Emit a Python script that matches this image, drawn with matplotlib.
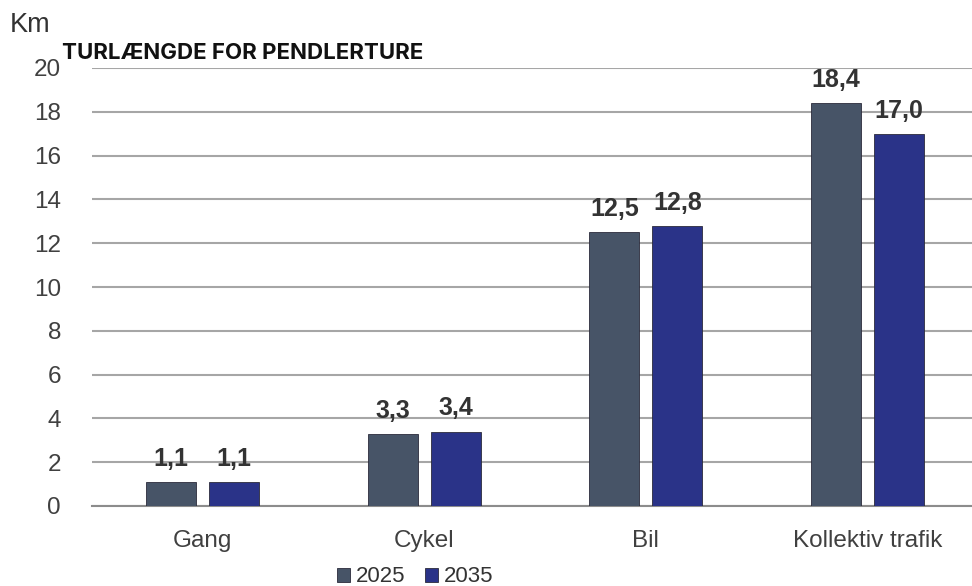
import matplotlib
matplotlib.use("Agg")
import matplotlib.pyplot as plt
import numpy as np

categories = ["Gang", "Cykel", "Bil", "Kollektiv trafik"]
series_names = ["2025", "2035"]
values_2025 = [1.1, 3.3, 12.5, 18.4]
values_2035 = [1.1, 3.4, 12.8, 17.0]
yticks = [0, 2, 4, 6, 8, 10, 12, 14, 16, 18, 20]

colors = ["#475467", "#2a3388"]

plt.rcParams['font.family'] = ['Liberation Sans', 'DejaVu Sans']

fig = plt.figure(figsize=(9.72, 5.86), dpi=100)
ax = fig.add_axes([91.5/972, 80/586, 887/972, 438/586])

x = np.arange(len(categories))
w = 0.225
off = 0.142
bars = []
for i, (vals, name, c) in enumerate(zip([values_2025, values_2035], series_names, colors)):
    pos = x + (-off if i == 0 else off)
    b = ax.bar(pos, vals, width=w, color=c,
               edgecolor="#2b2b3b", linewidth=0.6, label=name, zorder=3)
    bars.append(b)
    for xi, v in zip(pos, vals):
        ax.annotate(f"{v:.1f}".replace(".", ","), (xi, v), xytext=(0, 8),
                    textcoords="offset points", ha="center", va="bottom",
                    fontsize=18, fontweight="bold", color="#333333")

ax.set_xlim(-0.5, 3.5)
ax.set_ylim(0, 20)
ax.set_yticks(yticks)
ax.set_yticklabels([str(t) for t in yticks], fontsize=17.5, color="#404040")
ax.set_xticks(x)
ax.set_xticklabels(categories, fontsize=17.5, color="#404040")
ax.tick_params(axis="both", length=0)
ax.tick_params(axis="y", pad=22)
ax.tick_params(axis="x", pad=17)
ax.grid(axis="y", color="#a6a6a6", linewidth=1.5, zorder=0)
for s in ["top", "right", "left"]:
    ax.spines[s].set_visible(False)
ax.spines["bottom"].set_color("#8c8c8c")
ax.spines["bottom"].set_linewidth(1.5)

fig.text(10/972, 1 - 25/586, "Km", fontsize=19.5, color="#333333", va="center", ha="left")
fig.text(62/972, 1 - 53/586, "TURLÆNGDE FOR PENDLERTURE", fontsize=16, fontweight="bold",
         family=["Inter", "DejaVu Sans"], color="#111111", va="center", ha="left")

fig.legend(handles=bars, labels=series_names, loc="center", bbox_to_anchor=(415/972, 1 - 577/586),
           ncol=2, frameon=False, fontsize=16, handlelength=0.6, handleheight=0.6,
           handletextpad=0.25, columnspacing=0.9, labelcolor="#333333")

fig.savefig("out.png", dpi=100)
